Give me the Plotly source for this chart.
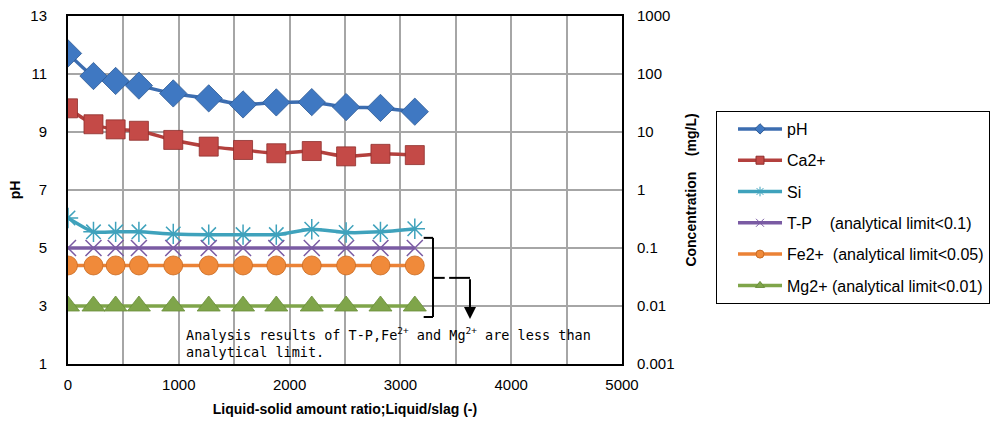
import plotly.graph_objects as go

# ---- data ----
ratio = [0, 230, 430, 640, 950, 1270, 1580, 1880, 2200, 2510, 2820, 3130]
ph = [11.71, 10.93, 10.76, 10.6, 10.33, 10.16, 9.95, 10.02, 10.03, 9.86, 9.83, 9.7]
ca = [25.6, 13.6, 11.1, 10.5, 7.3, 5.6, 4.9, 4.3, 4.7, 3.8, 4.2, 4.0]
si = [0.33, 0.19, 0.19, 0.19, 0.175, 0.17, 0.17, 0.17, 0.21, 0.185, 0.19, 0.215]
tp = [0.1] * 12
fe = [0.05] * 12
mg = [0.01] * 12

left_ticks = [1, 3, 5, 7, 9, 11, 13]
right_ticks = [0.001, 0.01, 0.1, 1, 10, 100, 1000]
right_labels = ["0.001", "0.01", "0.1", "1", "10", "100", "1000"]
x_ticks = [0, 1000, 2000, 3000, 4000, 5000]

names = ["pH", "Ca2+", "Si",
         "T-P\u00a0\u00a0\u00a0\u00a0(analytical limit<0.1)",
         "Fe2+\u00a0\u00a0(analytical limit<0.05)",
         "Mg2+\u00a0(analytical limit<0.01)"]

FONT = "Liberation Sans, Arial, sans-serif"

series = [
    # values, axis, line colour, marker colour, symbol, size, edge
    (ph, "y", "#3C6DB0", "#3F78C2", "diamond", 21, "#2E5A94"),
    (ca, "y2", "#B3403D", "#C44A47", "square", 19, "#8E2E2C"),
    (si, "y2", "#3FA2BC", "#3FA2BC", "asterisk-open", 17, "#3FA2BC"),
    (tp, "y2", "#7A5BA3", "#7A5BA3", "x-thin-open", 16, "#7A5BA3"),
    (fe, "y2", "#EB8236", "#F08A3A", "circle", 19, "#C86A22"),
    (mg, "y2", "#7FA54A", "#7FA54A", "triangle-up", 20, "#6A8E3A"),
]

fig = go.Figure()
for i, (vals, ax, lc, mc, sym, sz, edge) in enumerate(series):
    open_sym = sym.endswith("open")
    fig.add_trace(go.Scatter(
        x=ratio, y=vals, yaxis=ax, mode="lines+markers",
        line=dict(color=lc, width=3.5, shape="spline", smoothing=0.6),
        marker=dict(symbol=sym, size=sz, color=mc,
                    line=dict(color=edge, width=1.5 if open_sym else 0.8)),
        showlegend=False, name=names[i]))
    # small-marker legend entries
    fig.add_trace(go.Scatter(
        x=[None], y=[None], yaxis=ax, mode="lines+markers", name=names[i],
        line=dict(color=lc, width=3.5),
        marker=dict(symbol=sym, size=8, color=mc,
                    line=dict(color=edge, width=1)),
        legendgroup=f"g{i}", showlegend=True))

# bracket and arrow (annotation graphics)
blk = dict(color="black", width=2)
bx, btop, bbot, bmid = 3294, 5.35, 2.62, 3.97
fig.add_shape(type="line", xref="x", yref="y", x0=3210, x1=bx, y0=btop, y1=btop, line=blk)
fig.add_shape(type="line", xref="x", yref="y", x0=bx, x1=bx, y0=btop, y1=bbot, line=blk)
fig.add_shape(type="line", xref="x", yref="y", x0=3210, x1=bx, y0=bbot, y1=bbot, line=blk)
fig.add_shape(type="line", xref="x", yref="y", x0=bx, x1=3400, y0=bmid, y1=bmid, line=blk)
fig.add_shape(type="line", xref="x", yref="y", x0=3440, x1=3628, y0=bmid, y1=bmid, line=blk)
fig.add_annotation(x=3628, y=2.55, ax=3628, ay=bmid, xref="x", yref="y", axref="x", ayref="y",
                   showarrow=True, arrowhead=2, arrowsize=1.2, arrowwidth=2, arrowcolor="black", text="")

fig.add_annotation(
    x=1050, y=1.75, xref="x", yref="y", xanchor="left", yanchor="middle", align="left",
    showarrow=False,
    text="Analysis results of T-P,Fe<sup>2+</sup> and Mg<sup>2+</sup> are less than<br>analytical limit.",
    font=dict(family="DejaVu Sans Mono, Liberation Mono, monospace", size=13.5, color="black"))

grid = "#A6A6A6"
fig.update_layout(
    width=992, height=432,
    margin=dict(l=68, r=370, t=16, b=68, autoexpand=False),
    paper_bgcolor="white", plot_bgcolor="white",
    font=dict(family=FONT, size=15, color="black"),
    xaxis=dict(range=[0, 5000], tickvals=x_ticks, showgrid=True, gridcolor=grid, gridwidth=1.5,
               minor=dict(dtick=500, showgrid=True, gridcolor=grid, gridwidth=1.5),
               showline=True, linecolor="black", linewidth=2, mirror=True, zeroline=False,
               ticks="", ticklabelstandoff=6, automargin=False, ticklabeloverflow="allow",
               title=dict(text="Liquid-solid amount ratio;Liquid/slag (-)",
                          font=dict(family=FONT, size=14, weight="bold"), standoff=12)),
    yaxis=dict(range=[1, 13], tickvals=left_ticks, showgrid=True, gridcolor=grid, gridwidth=1.5,
               showline=True, linecolor="black", linewidth=2, mirror=True, zeroline=False,
               ticks="", ticklabelstandoff=16, automargin=False, ticklabeloverflow="allow",
               title=dict(text="pH", font=dict(family=FONT, size=14, weight="bold"), standoff=6)),
    yaxis2=dict(overlaying="y", side="right", type="log", range=[-3, 3],
                tickvals=right_ticks, ticktext=right_labels, showgrid=False,
                showline=False, zeroline=False, ticks="", ticklabelstandoff=14, automargin=False,
                ticklabeloverflow="allow",
                title=dict(text="Concentration\u00a0\u00a0\u00a0\u00a0(mg/L)",
                           font=dict(family=FONT, size=14, weight="bold"), standoff=12)),
    legend=dict(x=1.1697, y=0.727, xanchor="left", yanchor="top",
                bordercolor="black", borderwidth=1, bgcolor="white",
                font=dict(family=FONT, size=16), tracegroupgap=7.5, itemwidth=44,
                indentation=16),
)

fig.write_html("out.html", config={"displayModeBar": False},
               post_script="document.body.style.margin='0';document.body.style.overflow='hidden';")
